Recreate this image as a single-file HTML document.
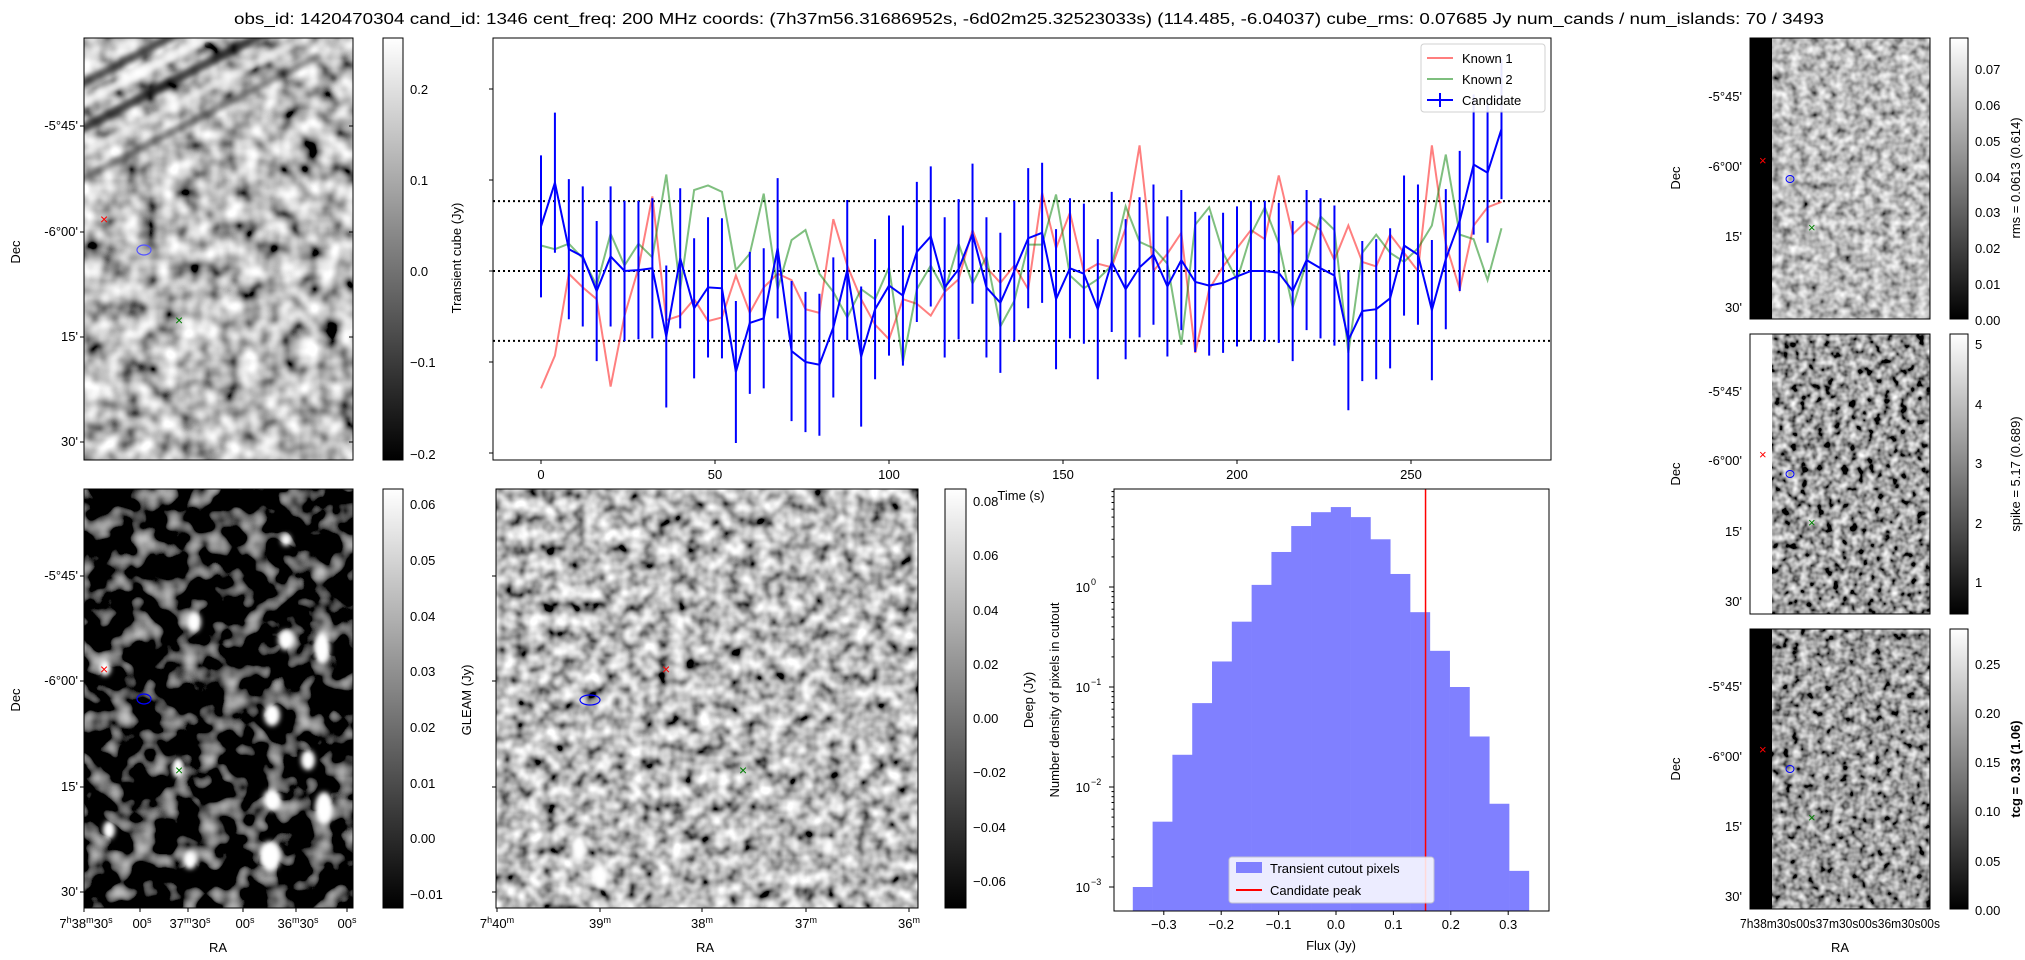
<!DOCTYPE html>
<html><head><meta charset="utf-8">
<style>
html,body{margin:0;padding:0;background:#fff;}
svg{display:block;font-family:"Liberation Sans","DejaVu Sans",sans-serif;}
text{fill:#000;}
</style></head>
<body>
<svg id="fig" width="2025" height="960" viewBox="0 0 2025 960" xmlns="http://www.w3.org/2000/svg">
<defs>
<linearGradient id="cbg" x1="0" y1="1" x2="0" y2="0"><stop offset="0" stop-color="#000"/><stop offset="1" stop-color="#fff"/></linearGradient>
<filter id="nA" x="0" y="0" width="100%" height="100%"><feTurbulence type="fractalNoise" baseFrequency="0.05" numOctaves="2" seed="3"/><feColorMatrix type="matrix" values="1.7 0 0 0 -0.35  1.7 0 0 0 -0.35  1.7 0 0 0 -0.35  0 0 0 0 1"/></filter>
<filter id="nB" x="0" y="0" width="100%" height="100%"><feTurbulence type="fractalNoise" baseFrequency="0.045" numOctaves="2" seed="7"/><feColorMatrix type="matrix" values="1.5 0 0 0 -0.75  1.5 0 0 0 -0.75  1.5 0 0 0 -0.75  0 0 0 0 1"/></filter>
<filter id="nG" x="0" y="0" width="100%" height="100%"><feTurbulence type="fractalNoise" baseFrequency="0.07" numOctaves="2" seed="11"/><feColorMatrix type="matrix" values="1.7 0 0 0 -0.35  1.7 0 0 0 -0.35  1.7 0 0 0 -0.35  0 0 0 0 1"/></filter>
<filter id="nR" x="0" y="0" width="100%" height="100%"><feTurbulence type="fractalNoise" baseFrequency="0.11" numOctaves="2" seed="5"/><feColorMatrix type="matrix" values="1.3 0 0 0 -0.15  1.3 0 0 0 -0.15  1.3 0 0 0 -0.15  0 0 0 0 1"/></filter>
<filter id="nS" x="0" y="0" width="100%" height="100%"><feTurbulence type="fractalNoise" baseFrequency="0.12" numOctaves="2" seed="9"/><feColorMatrix type="matrix" values="1.7 0 0 0 -0.5  1.7 0 0 0 -0.5  1.7 0 0 0 -0.5  0 0 0 0 1"/></filter>
<filter id="nT" x="0" y="0" width="100%" height="100%"><feTurbulence type="fractalNoise" baseFrequency="0.12" numOctaves="2" seed="13"/><feColorMatrix type="matrix" values="1.5 0 0 0 -0.4  1.5 0 0 0 -0.4  1.5 0 0 0 -0.4  0 0 0 0 1"/></filter>
<clipPath id="cA"><rect x="84" y="38" width="269" height="422"/></clipPath>
<filter id="blur2"><feGaussianBlur stdDeviation="2.5"/></filter>
</defs>

<text x="1029" y="24" font-size="16" text-anchor="middle" textLength="1590" lengthAdjust="spacingAndGlyphs">obs_id: 1420470304 cand_id: 1346 cent_freq: 200 MHz coords: (7h37m56.31686952s, -6d02m25.32523033s) (114.485, -6.04037) cube_rms: 0.07685 Jy num_cands / num_islands: 70 / 3493</text>

<g>
<rect x="84" y="38" width="269" height="422" filter="url(#nA)"/>
<g clip-path="url(#cA)" filter="url(#blur2)">
<line x1="70" y1="110" x2="260" y2="10" stroke="#fff" stroke-width="9" opacity="0.8"/>
<line x1="70" y1="135" x2="280" y2="25" stroke="#000" stroke-width="9" opacity="0.7"/>
<line x1="70" y1="160" x2="300" y2="40" stroke="#fff" stroke-width="8" opacity="0.6"/>
<line x1="80" y1="85" x2="240" y2="0" stroke="#000" stroke-width="8" opacity="0.6"/>
<line x1="70" y1="185" x2="320" y2="55" stroke="#000" stroke-width="7" opacity="0.4"/>
</g>
<rect x="84" y="38" width="269" height="422" fill="none" stroke="#000" stroke-width="1"/>
<text x="100" y="224" font-size="14" style="fill:red">×</text>
<ellipse cx="144" cy="250" rx="7" ry="5" fill="none" stroke="#55f" stroke-width="1.2"/>
<text x="175" y="325" font-size="14" style="fill:green">×</text>
<g font-size="13" text-anchor="end">
<text x="78" y="130">-5°45'</text><text x="78" y="236">-6°00'</text><text x="78" y="341">15'</text><text x="78" y="446">30'</text></g>
<g stroke="#000"><line x1="84" y1="126" x2="80" y2="126"/><line x1="84" y1="232" x2="80" y2="232"/><line x1="84" y1="337" x2="80" y2="337"/><line x1="84" y1="442" x2="80" y2="442"/>
<line x1="353" y1="126" x2="349" y2="126"/><line x1="353" y1="232" x2="349" y2="232"/><line x1="353" y1="337" x2="349" y2="337"/><line x1="353" y1="442" x2="349" y2="442"/></g>
<text transform="translate(20,252) rotate(-90)" font-size="13" text-anchor="middle">Dec</text>
<rect x="383" y="38" width="20" height="422" fill="url(#cbg)" stroke="#000"/>
<g font-size="13"><text x="410" y="94">0.2</text><text x="410" y="185">0.1</text><text x="410" y="276">0.0</text><text x="410" y="367">−0.1</text><text x="410" y="459">−0.2</text></g>
</g>

<g id="lc"></g>

<g>
<rect x="84" y="489" width="269" height="419" filter="url(#nB)"/>
<g fill="#fff" filter="url(#blur2)">
<ellipse cx="194" cy="622" rx="7" ry="10"/><ellipse cx="286" cy="640" rx="8" ry="10"/><ellipse cx="322" cy="648" rx="8" ry="16"/>
<ellipse cx="272" cy="715" rx="8" ry="11"/><ellipse cx="308" cy="760" rx="7" ry="10"/><ellipse cx="178" cy="768" rx="6" ry="10"/>
<ellipse cx="272" cy="800" rx="9" ry="11"/><ellipse cx="324" cy="808" rx="9" ry="16"/><ellipse cx="109" cy="830" rx="6" ry="9"/>
<ellipse cx="190" cy="860" rx="7" ry="9"/><ellipse cx="270" cy="856" rx="11" ry="15"/><ellipse cx="105" cy="668" rx="6" ry="8"/><ellipse cx="286" cy="540" rx="5" ry="6"/></g>
<rect x="84" y="489" width="269" height="419" fill="none" stroke="#000"/>
<text x="100" y="674" font-size="14" style="fill:red">×</text>
<ellipse cx="144" cy="699" rx="7" ry="5" fill="none" stroke="#00f" stroke-width="1.2"/>
<text x="175" y="775" font-size="14" style="fill:green">×</text>
<g font-size="13" text-anchor="end">
<text x="78" y="580">-5°45'</text><text x="78" y="685">-6°00'</text><text x="78" y="791">15'</text><text x="78" y="896">30'</text></g>
<g stroke="#000"><line x1="84" y1="576" x2="80" y2="576"/><line x1="84" y1="681" x2="80" y2="681"/><line x1="84" y1="787" x2="80" y2="787"/><line x1="84" y1="892" x2="80" y2="892"/>
<line x1="84" y1="908" x2="84" y2="912"/><line x1="140" y1="908" x2="140" y2="912"/><line x1="188" y1="908" x2="188" y2="912"/><line x1="243" y1="908" x2="243" y2="912"/><line x1="296" y1="908" x2="296" y2="912"/><line x1="347" y1="908" x2="347" y2="912"/></g>
<text transform="translate(20,700) rotate(-90)" font-size="13" text-anchor="middle">Dec</text>
<g font-size="13" text-anchor="middle">
<text x="86" y="928">7<tspan font-size="9" dy="-5">h</tspan><tspan dy="5">38</tspan><tspan font-size="9" dy="-5">m</tspan><tspan dy="5">30</tspan><tspan font-size="9" dy="-5">s</tspan></text>
<text x="142" y="928">00<tspan font-size="9" dy="-5">s</tspan></text>
<text x="190" y="928">37<tspan font-size="9" dy="-5">m</tspan><tspan dy="5">30</tspan><tspan font-size="9" dy="-5">s</tspan></text>
<text x="245" y="928">00<tspan font-size="9" dy="-5">s</tspan></text>
<text x="298" y="928">36<tspan font-size="9" dy="-5">m</tspan><tspan dy="5">30</tspan><tspan font-size="9" dy="-5">s</tspan></text>
<text x="347" y="928">00<tspan font-size="9" dy="-5">s</tspan></text></g>
<text x="218" y="952" font-size="13" text-anchor="middle">RA</text>
<rect x="383" y="489" width="20" height="419" fill="url(#cbg)" stroke="#000"/>
<g font-size="13"><text x="410" y="509">0.06</text><text x="410" y="565">0.05</text><text x="410" y="621">0.04</text><text x="410" y="676">0.03</text><text x="410" y="732">0.02</text><text x="410" y="788">0.01</text><text x="410" y="843">0.00</text><text x="410" y="899">−0.01</text></g>
</g>

<g>
<rect x="496" y="489" width="422" height="419" filter="url(#nG)"/>
<g fill="#fff" filter="url(#blur2)"><ellipse cx="579" cy="848" rx="7" ry="13"/><ellipse cx="600" cy="876" rx="7" ry="13"/><ellipse cx="829" cy="846" rx="5" ry="8"/><ellipse cx="914" cy="820" rx="4" ry="7"/></g>
<rect x="496" y="489" width="422" height="419" fill="none" stroke="#000"/>
<text x="662" y="674" font-size="14" style="fill:red">×</text>
<ellipse cx="590" cy="700" rx="10" ry="5" fill="none" stroke="#00f" stroke-width="1.2"/>
<text x="739" y="775" font-size="14" style="fill:green">×</text>
<g stroke="#000"><line x1="497" y1="908" x2="497" y2="912"/><line x1="600" y1="908" x2="600" y2="912"/><line x1="702" y1="908" x2="702" y2="912"/><line x1="806" y1="908" x2="806" y2="912"/><line x1="909" y1="908" x2="909" y2="912"/>
<line x1="496" y1="576" x2="492" y2="576"/><line x1="496" y1="681" x2="492" y2="681"/><line x1="496" y1="787" x2="492" y2="787"/><line x1="496" y1="892" x2="492" y2="892"/></g>
<g font-size="13" text-anchor="middle">
<text x="497" y="928">7<tspan font-size="9" dy="-5">h</tspan><tspan dy="5">40</tspan><tspan font-size="9" dy="-5">m</tspan></text>
<text x="600" y="928">39<tspan font-size="9" dy="-5">m</tspan></text><text x="702" y="928">38<tspan font-size="9" dy="-5">m</tspan></text>
<text x="806" y="928">37<tspan font-size="9" dy="-5">m</tspan></text><text x="909" y="928">36<tspan font-size="9" dy="-5">m</tspan></text></g>
<text x="705" y="952" font-size="13" text-anchor="middle">RA</text>
<text transform="translate(471,700) rotate(-90)" font-size="13" text-anchor="middle">GLEAM (Jy)</text>
<rect x="945" y="489" width="21" height="419" fill="url(#cbg)" stroke="#000"/>
<g font-size="13"><text x="973" y="506">0.08</text><text x="973" y="560">0.06</text><text x="973" y="615">0.04</text><text x="973" y="669">0.02</text><text x="973" y="723">0.00</text><text x="973" y="777">−0.02</text><text x="973" y="832">−0.04</text><text x="973" y="886">−0.06</text></g>
<text transform="translate(1033,700) rotate(-90)" font-size="13" text-anchor="middle">Deep (Jy)</text>
</g>

<g id="hist"></g>

<g>
<rect x="1750" y="38" width="180" height="281" filter="url(#nR)"/>
<rect x="1750" y="38" width="22" height="281" fill="#000"/>
<rect x="1750" y="38" width="180" height="281" fill="none" stroke="#000"/>
<text x="1759" y="165" font-size="13" style="fill:red">×</text><ellipse cx="1790" cy="179" rx="4" ry="3.5" fill="none" stroke="#00f"/><text x="1808" y="232" font-size="13" style="fill:green">×</text>
<g font-size="13" text-anchor="end"><text x="1742" y="101">-5°45'</text><text x="1742" y="171">-6°00'</text><text x="1742" y="241">15'</text><text x="1742" y="312">30'</text></g>
<text transform="translate(1680,178) rotate(-90)" font-size="13" text-anchor="middle">Dec</text>
<rect x="1950" y="38" width="18" height="281" fill="url(#cbg)" stroke="#000"/>
<g font-size="13"><text x="1975" y="74">0.07</text><text x="1975" y="110">0.06</text><text x="1975" y="146">0.05</text><text x="1975" y="182">0.04</text><text x="1975" y="217">0.03</text><text x="1975" y="253">0.02</text><text x="1975" y="289">0.01</text><text x="1975" y="325">0.00</text></g>
<text transform="translate(2020,178) rotate(-90)" font-size="13" text-anchor="middle">rms = 0.0613 (0.614)</text>
</g>
<g>
<rect x="1772" y="334" width="158" height="280" filter="url(#nS)"/>
<rect x="1750" y="334" width="180" height="280" fill="none" stroke="#000"/>
<text x="1759" y="459" font-size="13" style="fill:red">×</text><ellipse cx="1790" cy="474" rx="4" ry="3.5" fill="none" stroke="#00f"/><text x="1808" y="527" font-size="13" style="fill:green">×</text>
<g font-size="13" text-anchor="end"><text x="1742" y="396">-5°45'</text><text x="1742" y="465">-6°00'</text><text x="1742" y="536">15'</text><text x="1742" y="606">30'</text></g>
<text transform="translate(1680,474) rotate(-90)" font-size="13" text-anchor="middle">Dec</text>
<rect x="1950" y="334" width="18" height="280" fill="url(#cbg)" stroke="#000"/>
<g font-size="13"><text x="1975" y="349">5</text><text x="1975" y="409">4</text><text x="1975" y="468">3</text><text x="1975" y="528">2</text><text x="1975" y="587">1</text></g>
<text transform="translate(2020,474) rotate(-90)" font-size="13" text-anchor="middle">spike = 5.17 (0.689)</text>
</g>
<g>
<rect x="1750" y="629" width="180" height="280" filter="url(#nT)"/>
<rect x="1750" y="629" width="22" height="280" fill="#000"/>
<rect x="1750" y="629" width="180" height="280" fill="none" stroke="#000"/>
<text x="1759" y="754" font-size="13" style="fill:red">×</text><ellipse cx="1790" cy="769" rx="4" ry="3.5" fill="none" stroke="#00f"/><text x="1808" y="822" font-size="13" style="fill:green">×</text>
<g font-size="13" text-anchor="end"><text x="1742" y="691">-5°45'</text><text x="1742" y="761">-6°00'</text><text x="1742" y="831">15'</text><text x="1742" y="901">30'</text></g>
<text transform="translate(1680,769) rotate(-90)" font-size="13" text-anchor="middle">Dec</text>
<text x="1840" y="928" font-size="13" text-anchor="middle" textLength="200" lengthAdjust="spacingAndGlyphs">7h38m30s00s37m30s00s36m30s00s</text>
<text x="1840" y="952" font-size="13" text-anchor="middle">RA</text>
<rect x="1950" y="629" width="18" height="280" fill="url(#cbg)" stroke="#000"/>
<g font-size="13"><text x="1975" y="669">0.25</text><text x="1975" y="718">0.20</text><text x="1975" y="767">0.15</text><text x="1975" y="816">0.10</text><text x="1975" y="866">0.05</text><text x="1975" y="915">0.00</text></g>
<text transform="translate(2020,769) rotate(-90)" font-size="13" font-weight="bold" text-anchor="middle">tcg = 0.33 (1.06)</text>
</g>
</svg>
<script>
const times=[0,4,8,12,16,20,24,28,32,36,40,44,48,52,56,60,64,68,72,76,80,84,88,92,96,100,104,108,112,116,120,124,128,132,136,140,144,148,152,156,160,164,168,172,176,180,184,188,192,196,200,204,208,212,216,220,224,228,232,236,240,244,248,252,256,260,264,268,272,276];
const candidate=[0.049,0.097,0.024,0.016,-0.022,0.016,0.0,0.001,0.003,-0.072,0.014,-0.041,-0.018,-0.019,-0.111,-0.057,-0.052,0.025,-0.088,-0.1,-0.103,-0.062,0.001,-0.094,-0.042,-0.016,-0.027,0.021,0.038,-0.018,0.002,0.041,-0.018,-0.035,0.0,0.036,0.042,-0.031,0.003,-0.003,-0.042,0.01,-0.02,0.004,0.018,-0.017,0.012,-0.012,-0.016,-0.013,-0.006,0.0,0.0,-0.002,-0.022,0.012,0.003,-0.005,-0.076,-0.044,-0.042,-0.03,0.028,0.018,-0.043,0.013,0.055,0.117,0.108,0.156];
const candErr=[0.078,0.077,0.077,0.077,0.077,0.077,0.077,0.076,0.077,0.078,0.077,0.077,0.077,0.077,0.078,0.078,0.077,0.077,0.077,0.077,0.078,0.077,0.077,0.077,0.077,0.077,0.077,0.077,0.077,0.077,0.077,0.077,0.077,0.077,0.077,0.077,0.077,0.077,0.077,0.077,0.077,0.077,0.077,0.077,0.077,0.077,0.077,0.077,0.077,0.077,0.077,0.077,0.077,0.077,0.077,0.077,0.077,0.077,0.077,0.077,0.077,0.077,0.077,0.077,0.077,0.077,0.077,0.077,0.077,0.077];
const known1=[-0.129,-0.093,-0.003,-0.018,-0.031,-0.127,-0.049,0.003,0.082,-0.054,-0.049,-0.031,-0.055,-0.051,-0.005,-0.046,-0.018,-0.003,-0.01,-0.042,-0.046,0.057,0.006,-0.031,-0.059,-0.075,-0.031,-0.036,-0.049,-0.023,-0.009,0.045,0.004,-0.013,0.006,-0.02,0.086,0.025,0.064,-0.001,0.008,0.004,0.047,0.138,0.0,0.019,0.042,-0.09,-0.02,0.005,0.025,0.045,0.035,0.105,0.04,0.055,0.045,0.012,0.05,0.01,0.005,0.04,0.02,0.0,0.138,0.03,-0.02,0.05,0.07,0.076];
const known2=[0.028,0.024,0.03,0.014,-0.016,0.041,0.006,0.03,0.015,0.106,-0.02,0.089,0.094,0.087,0.001,0.019,0.085,-0.02,0.034,0.045,-0.003,-0.023,-0.051,-0.02,-0.031,0.004,-0.1,-0.02,0.006,-0.022,0.03,-0.014,0.016,-0.061,-0.033,0.029,0.029,0.084,-0.005,-0.019,-0.009,0.006,0.071,0.032,0.025,0.008,-0.081,0.051,0.07,0.02,-0.01,0.04,0.07,0.03,-0.04,0.01,0.06,0.045,-0.09,0.02,0.04,0.02,0.01,0.025,0.05,0.128,0.04,0.035,-0.01,0.047];
const timeTicks=[0,50,100,150,200,250];
const yTicks=[0.2,0.1,0.0,-0.1,-0.2];
const cubeRms=0.07685;

const histCounts=[0.001,0.0045,0.021,0.069,0.18,0.45,1.05,2.24,4.07,5.6,6.3,5.0,3.0,1.35,0.56,0.23,0.10,0.032,0.0068,0.00145];
const histEdgeStart=-0.354;
const histBinWidth=0.0345;
const fluxTicks=[-0.3,-0.2,-0.1,0.0,0.1,0.2,0.3];
const decadeTicks=[0,-1,-2,-3];
const candidatePeak=0.156;

const NS='http://www.w3.org/2000/svg';
function mk(parent,tag,attrs,txt){const e=document.createElementNS(NS,tag);for(const k in attrs)e.setAttribute(k,attrs[k]);if(txt!==undefined)e.textContent=txt;parent.appendChild(e);return e;}

const lc=document.getElementById('lc');
const L={x0:493,x1:1551,y0:38,y1:460};
const tx=t=>541+t*3.48;
const vy=v=>271-v*910;
mk(lc,'rect',{x:L.x0,y:L.y0,width:L.x1-L.x0,height:L.y1-L.y0,fill:'#fff',stroke:'none'});
[cubeRms,0,-cubeRms].forEach(v=>{const l=mk(lc,'line',{x1:L.x0,x2:L.x1,y1:vy(v),y2:vy(v),stroke:'#000','stroke-width':2,'stroke-dasharray':'2,3'});

});
function poly(vals,color,w,op,name){const p=mk(lc,'polyline',{points:vals.map((v,i)=>tx(times[i])+','+vy(v)).join(' '),fill:'none',stroke:color,'stroke-width':w,opacity:op});

}
poly(known1,'#f00',2,0.5,'known1-line');
poly(known2,'#008000',2,0.5,'known2-line');
candidate.forEach((v,i)=>{const e=mk(lc,'line',{x1:tx(times[i]),x2:tx(times[i]),y1:vy(v+candErr[i]),y2:vy(v-candErr[i]),stroke:'#00f','stroke-width':2});

});
poly(candidate,'#00f',2,1,'candidate-line');
mk(lc,'rect',{x:L.x0,y:L.y0,width:L.x1-L.x0,height:L.y1-L.y0,fill:'none',stroke:'#000'});
timeTicks.forEach(t=>{mk(lc,'line',{x1:tx(t),x2:tx(t),y1:L.y1,y2:L.y1+4,stroke:'#000'});
const tt=mk(lc,'text',{x:tx(t),y:L.y1+19,'font-size':13,'text-anchor':'middle'},String(t));

});
yTicks.forEach(v=>mk(lc,'line',{x1:L.x0,x2:L.x0-4,y1:vy(v),y2:vy(v),stroke:'#000'}));
const yl=mk(lc,'text',{transform:'translate(461,258) rotate(-90)','font-size':13,'text-anchor':'middle'},'Transient cube (Jy)');


const xl=mk(lc,'text',{x:1021,y:500,'font-size':13,'text-anchor':'middle'},'Time (s)');


const lg=mk(lc,'g',{});


mk(lg,'rect',{x:1421,y:44,width:124,height:68,fill:'#fff',stroke:'#ccc',rx:3,opacity:0.9});
[['Known 1','#f00',0.5],['Known 2','#008000',0.5],['Candidate','#00f',1]].forEach((d,i)=>{const y=58+i*21;
mk(lg,'line',{x1:1427,x2:1453,y1:y,y2:y,stroke:d[1],'stroke-width':2,opacity:d[2]});
if(i===2)mk(lg,'line',{x1:1440,x2:1440,y1:y-7,y2:y+7,stroke:'#00f','stroke-width':2});
const t=mk(lg,'text',{x:1462,y:y+5,'font-size':13},d[0]);

});

const h=document.getElementById('hist');
const H={x0:1114,x1:1549,y0:489,y1:911};
const fx=v=>1336+v*574;
const ly=v=>587-100*Math.log10(v);
histCounts.forEach((c,i)=>{const a=histEdgeStart+i*histBinWidth;const x=fx(a),w=fx(a+histBinWidth)-x;const y=Math.max(H.y0,ly(c));
const r=mk(h,'rect',{x:x,y:y,width:w+0.3,height:H.y1-y,fill:'#8080ff'});

});
const pk=mk(h,'line',{x1:fx(candidatePeak),x2:fx(candidatePeak),y1:H.y0,y2:H.y1,stroke:'#f00','stroke-width':1.5});


mk(h,'rect',{x:H.x0,y:H.y0,width:H.x1-H.x0,height:H.y1-H.y0,fill:'none',stroke:'#000'});
fluxTicks.forEach(v=>{mk(h,'line',{x1:fx(v),x2:fx(v),y1:H.y1,y2:H.y1+4,stroke:'#000'});
const t=mk(h,'text',{x:fx(v),y:H.y1+18,'font-size':13,'text-anchor':'middle'},v.toFixed(1).replace('-','−'));

});
decadeTicks.forEach(d=>{const y=ly(Math.pow(10,d));mk(h,'line',{x1:H.x0,x2:H.x0-5,y1:y,y2:y,stroke:'#000'});
const t=mk(h,'text',{x:H.x0-24,y:y+5,'font-size':13,'text-anchor':'end'},'10');


mk(h,'text',{x:H.x0-23,y:y-2,'font-size':9},d===0?'0':'−'+(-d));
for(let m=2;m<10;m++){const yy=ly(m*Math.pow(10,d));if(yy>H.y0&&yy<H.y1)mk(h,'line',{x1:H.x0,x2:H.x0-2.5,y1:yy,y2:yy,stroke:'#000'});}});
for(let m=2;m<10;m++){const yy=ly(m*10);if(yy>H.y0)mk(h,'line',{x1:H.x0,x2:H.x0-2.5,y1:yy,y2:yy,stroke:'#000'});}
const hy=mk(h,'text',{transform:'translate(1059,700) rotate(-90)','font-size':13,'text-anchor':'middle'},'Number density of pixels in cutout');


const hx=mk(h,'text',{x:1331,y:950,'font-size':13,'text-anchor':'middle'},'Flux (Jy)');


const hl=mk(h,'g',{});


mk(hl,'rect',{x:1229,y:857,width:205,height:46,fill:'#fff',stroke:'#ccc',rx:3,opacity:0.85});
mk(hl,'rect',{x:1236,y:862,width:26,height:11,fill:'#8080ff'});
mk(hl,'text',{x:1270,y:873,'font-size':13},'Transient cutout pixels');
mk(hl,'line',{x1:1236,x2:1262,y1:890,y2:890,stroke:'#f00','stroke-width':2});
mk(hl,'text',{x:1270,y:895,'font-size':13},'Candidate peak');
</script>
</body></html>
